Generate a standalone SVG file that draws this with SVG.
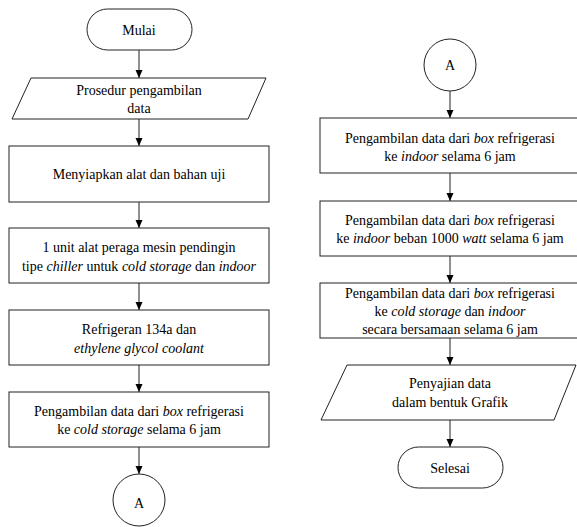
<svg xmlns="http://www.w3.org/2000/svg" width="577" height="527" viewBox="0 0 577 527">
<style>
.s{fill:#fff;stroke:#222;stroke-width:1}
.c{stroke:#222;stroke-width:1;fill:none;marker-end:url(#ah)}
text{font-family:'Liberation Serif','Times New Roman',serif;font-size:14px;fill:#000;text-anchor:middle}
.i{font-style:italic}
</style>
<defs>
<marker id="ah" markerUnits="userSpaceOnUse" markerWidth="8" markerHeight="8" refX="8" refY="4" orient="auto">
<path d="M0,0.5 L8,4 L0,7.5 z" fill="#000"/>
</marker>
</defs>
<rect width="577" height="527" fill="#fff"/>
<g id="connectors">
<line class="c" x1="139" y1="50" x2="139" y2="78"/>
<line class="c" x1="139" y1="119" x2="139" y2="146"/>
<line class="c" x1="139" y1="202" x2="139" y2="228"/>
<line class="c" x1="139" y1="283" x2="139" y2="310"/>
<line class="c" x1="139" y1="365" x2="139" y2="392"/>
<line class="c" x1="139" y1="447" x2="139" y2="474"/>
<line class="c" x1="450" y1="91" x2="450" y2="118"/>
<line class="c" x1="450" y1="173" x2="450" y2="201"/>
<line class="c" x1="450" y1="256" x2="450" y2="283"/>
<line class="c" x1="450" y1="338" x2="450" y2="365"/>
<line class="c" x1="450" y1="420" x2="450" y2="447"/>
</g>
<g id="mulai">
<rect class="s" x="87" y="9" width="105" height="41" rx="20.5"/>
<text x="139" y="35">Mulai</text>
</g>
<g id="prosedur">
<polygon class="s" points="31,78 266,78 248,119 12,119"/>
<text x="139" y="95">Prosedur pengambilan</text>
<text x="139" y="113">data</text>
</g>
<g id="menyiapkan">
<rect class="s" x="9" y="146" width="260" height="56"/>
<text x="139" y="178.5">Menyiapkan alat dan bahan uji</text>
</g>
<g id="unit">
<rect class="s" x="9" y="228" width="260" height="55"/>
<text x="139" y="251.5">1 unit alat peraga mesin pendingin</text>
<text x="139" y="270.5">tipe <tspan class="i">chiller</tspan> untuk <tspan class="i">cold storage</tspan> dan <tspan class="i">indoor</tspan></text>
</g>
<g id="refrigeran">
<rect class="s" x="9" y="310" width="260" height="55"/>
<text x="139" y="333.5">Refrigeran 134a dan</text>
<text x="139" y="352.5" class="i">ethylene glycol coolant</text>
</g>
<g id="coldstorage">
<rect class="s" x="9" y="392" width="260" height="55"/>
<text x="139" y="416">Pengambilan data dari <tspan class="i">box</tspan> refrigerasi</text>
<text x="139" y="434">ke <tspan class="i">cold storage</tspan> selama 6 jam</text>
</g>
<g id="a1">
<circle class="s" cx="139" cy="500" r="26"/>
<text x="139" y="507.5">A</text>
</g>
<g id="a2">
<circle class="s" cx="450" cy="65" r="26"/>
<text x="450" y="70">A</text>
</g>
<g id="indoor">
<rect class="s" x="320" y="118" width="260" height="55"/>
<text x="450" y="142.5">Pengambilan data dari <tspan class="i">box</tspan> refrigerasi</text>
<text x="450" y="160.5">ke <tspan class="i">indoor</tspan> selama 6 jam</text>
</g>
<g id="beban">
<rect class="s" x="320" y="201" width="260" height="55"/>
<text x="450" y="224.5">Pengambilan data dari <tspan class="i">box</tspan> refrigerasi</text>
<text x="450" y="242.5">ke <tspan class="i">indoor</tspan> beban 1000 <tspan class="i">watt</tspan> selama 6 jam</text>
</g>
<g id="bersamaan">
<rect class="s" x="320" y="283" width="260" height="55"/>
<text x="450" y="297.5">Pengambilan data dari <tspan class="i">box</tspan> refrigerasi</text>
<text x="450" y="315.5">ke <tspan class="i">cold storage</tspan> dan <tspan class="i">indoor</tspan></text>
<text x="450" y="333.5">secara bersamaan selama 6 jam</text>
</g>
<g id="penyajian">
<polygon class="s" points="347,365 576,365 554,420 321,420"/>
<text x="450" y="387.5">Penyajian data</text>
<text x="450" y="406.5">dalam bentuk Grafik</text>
</g>
<g id="selesai">
<rect class="s" x="398" y="447" width="105" height="41" rx="20.5"/>
<text x="450" y="472.5">Selesai</text>
</g>
</svg>
